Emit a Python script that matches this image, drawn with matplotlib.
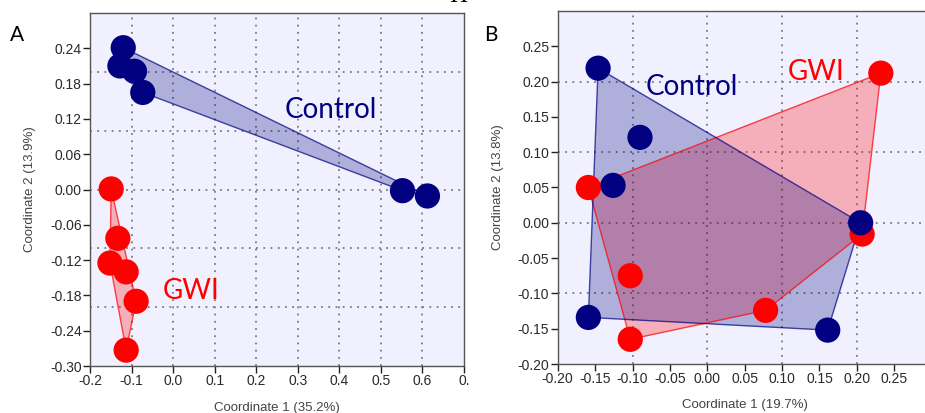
import matplotlib
matplotlib.use("Agg")
import matplotlib.pyplot as plt
from matplotlib.patches import Polygon
from matplotlib.ticker import FixedLocator

# panel A: PCoA coordinates
a_control_x = [-0.120, -0.128, -0.093, -0.073, 0.552, 0.612]
a_control_y = [0.241, 0.210, 0.201, 0.165, -0.002, -0.011]
a_gwi_x = [-0.149, -0.133, -0.152, -0.113, -0.089, -0.113]
a_gwi_y = [0.001, -0.083, -0.125, -0.140, -0.190, -0.273]

# panel B
b_control_x = [-0.146, -0.090, -0.126, 0.205, -0.159, 0.161]
b_control_y = [0.219, 0.121, 0.053, 0.000, -0.134, -0.152]
b_gwi_x = [-0.159, 0.232, 0.207, -0.103, 0.078, -0.103]
b_gwi_y = [0.050, 0.212, -0.016, -0.075, -0.124, -0.165]

a_xticks = [-0.2, -0.1, 0.0, 0.1, 0.2, 0.3, 0.4, 0.5, 0.6, 0.7]
a_xticklabels = ["-0.2", "-0.1", "0.0", "0.1", "0.2", "0.3", "0.4", "0.5", "0.6", "0."]
a_yticks = [-0.30, -0.24, -0.18, -0.12, -0.06, 0.00, 0.06, 0.12, 0.18, 0.24]
b_xticks = [-0.20, -0.15, -0.10, -0.05, 0.00, 0.05, 0.10, 0.15, 0.20, 0.25]
b_yticks = [-0.20, -0.15, -0.10, -0.05, 0.00, 0.05, 0.10, 0.15, 0.20, 0.25]

NAVY = "#000080"
RED = "#ff0000"
BG = "#f0f0ff"
TICK_COLOR = "#2a2a2a"


def convex_hull(xs, ys):
    pts = sorted(set(zip(xs, ys)))

    def cross(o, a, b):
        return (a[0] - o[0]) * (b[1] - o[1]) - (a[1] - o[1]) * (b[0] - o[0])

    lower, upper = [], []
    for p in pts:
        while len(lower) >= 2 and cross(lower[-2], lower[-1], p) <= 0:
            lower.pop()
        lower.append(p)
    for p in reversed(pts):
        while len(upper) >= 2 and cross(upper[-2], upper[-1], p) <= 0:
            upper.pop()
        upper.append(p)
    return lower[:-1] + upper[:-1]


def draw_group(ax, xs, ys, color):
    hull = convex_hull(xs, ys)
    ax.add_patch(Polygon(hull, closed=True, facecolor=color, alpha=0.27,
                         edgecolor="none", zorder=2))
    ax.add_patch(Polygon(hull, closed=True, facecolor="none", edgecolor=color,
                         alpha=0.7, lw=1.0, zorder=3))
    ax.scatter(xs, ys, s=330, color=color, edgecolors="none", zorder=4)


def style_axes(ax, xlabel, ylabel, xgrid, ygrid, xpad, ypad):
    ax.set_facecolor(BG)
    for side in ["left", "bottom", "right", "top"]:
        ax.spines[side].set_color("#555555")
        ax.spines[side].set_linewidth(1.0)
    ax.tick_params(which="major", direction="out", length=5, width=1.0,
                   color="#222222", labelcolor=TICK_COLOR, labelsize=10, pad=1)
    ax.tick_params(which="minor", length=0)
    # grid sits on its own positions, some of them shared with major ticks
    ax.xaxis.remove_overlapping_locs = False
    ax.yaxis.remove_overlapping_locs = False
    ax.xaxis.set_minor_locator(FixedLocator(xgrid))
    ax.yaxis.set_minor_locator(FixedLocator(ygrid))
    ax.grid(which="minor", color="#7a7a7a", linestyle=(0, (1, 3)), linewidth=1.3)
    ax.grid(which="major", visible=False)
    ax.set_axisbelow(True)
    ax.set_xlabel(xlabel, fontsize=9.5, color="#444444", labelpad=xpad)
    ax.set_ylabel(ylabel, fontsize=9.5, color="#444444", labelpad=ypad)


plt.rcParams["font.family"] = ["Liberation Sans", "DejaVu Sans"]

fig = plt.figure(figsize=(9.25, 4.13), dpi=100)
fig.patch.set_facecolor("white")

# panel A
ax1 = fig.add_axes([90 / 925, 47 / 413, 374 / 925, 353 / 413])
draw_group(ax1, a_control_x, a_control_y, NAVY)
draw_group(ax1, a_gwi_x, a_gwi_y, RED)
ax1.set_xlim(-0.2, 0.7)
ax1.set_ylim(-0.30, 0.30)
ax1.set_xticks(a_xticks)
ax1.set_xticklabels(a_xticklabels)
ax1.set_yticks(a_yticks)
ax1.set_yticklabels(["%.2f" % v for v in a_yticks])
style_axes(ax1, "Coordinate 1 (35.2%)", "Coordinate 2 (13.9%)",
           [-0.1, 0.0, 0.1, 0.2, 0.3, 0.4, 0.5, 0.6],
           [-0.2, -0.1, 0.0, 0.1, 0.2], 9.5, 10)
ax1.text(0.269, 0.135, "Control", color=NAVY, fontsize=20, family="Lato",
         ha="left", va="center", zorder=5)
ax1.text(-0.024, -0.173, "GWI", color=RED, fontsize=20, family="Lato",
         ha="left", va="center", zorder=5)

# panel B (right edge runs past the picture, as in the original crop)
ax2 = fig.add_axes([557.7 / 925, 49 / 413, 374 / 925, 353 / 413])
draw_group(ax2, b_gwi_x, b_gwi_y, RED)
draw_group(ax2, b_control_x, b_control_y, NAVY)
ax2.set_xlim(-0.2, 0.3)
ax2.set_ylim(-0.20, 0.30)
ax2.set_xticks(b_xticks)
ax2.set_xticklabels(["%.2f" % v for v in b_xticks])
ax2.set_yticks(b_yticks)
ax2.set_yticklabels(["%.2f" % v for v in b_yticks])
style_axes(ax2, "Coordinate 1 (19.7%)", "Coordinate 2 (13.8%)",
           [-0.1, 0.0, 0.1, 0.2],
           [-0.1, 0.0, 0.1, 0.2], 5, 10)
ax2.xaxis.set_label_coords((745 - 557.7) / 374, -0.1)
ax2.text(-0.083, 0.193, "Control", color=NAVY, fontsize=20, family="Lato",
         ha="left", va="center", zorder=5)
ax2.text(0.107, 0.213, "GWI", color=RED, fontsize=20, family="Lato",
         ha="left", va="center", zorder=5)

# panel letters
fig.text(10 / 925, 1 - 35 / 413, "A", fontsize=15, family="Lato",
         ha="left", va="center", color="black")
fig.text(484 / 925, 1 - 35 / 413, "B", fontsize=15, family="Lato",
         ha="left", va="center", color="black")
# heading of the source page, cut off at the top edge
fig.text(458 / 925, 1 + 4 / 413, "H", fontsize=18, family="Liberation Serif",
         ha="center", va="center", color="black")

fig.savefig("out.png", dpi=100, facecolor="white")
